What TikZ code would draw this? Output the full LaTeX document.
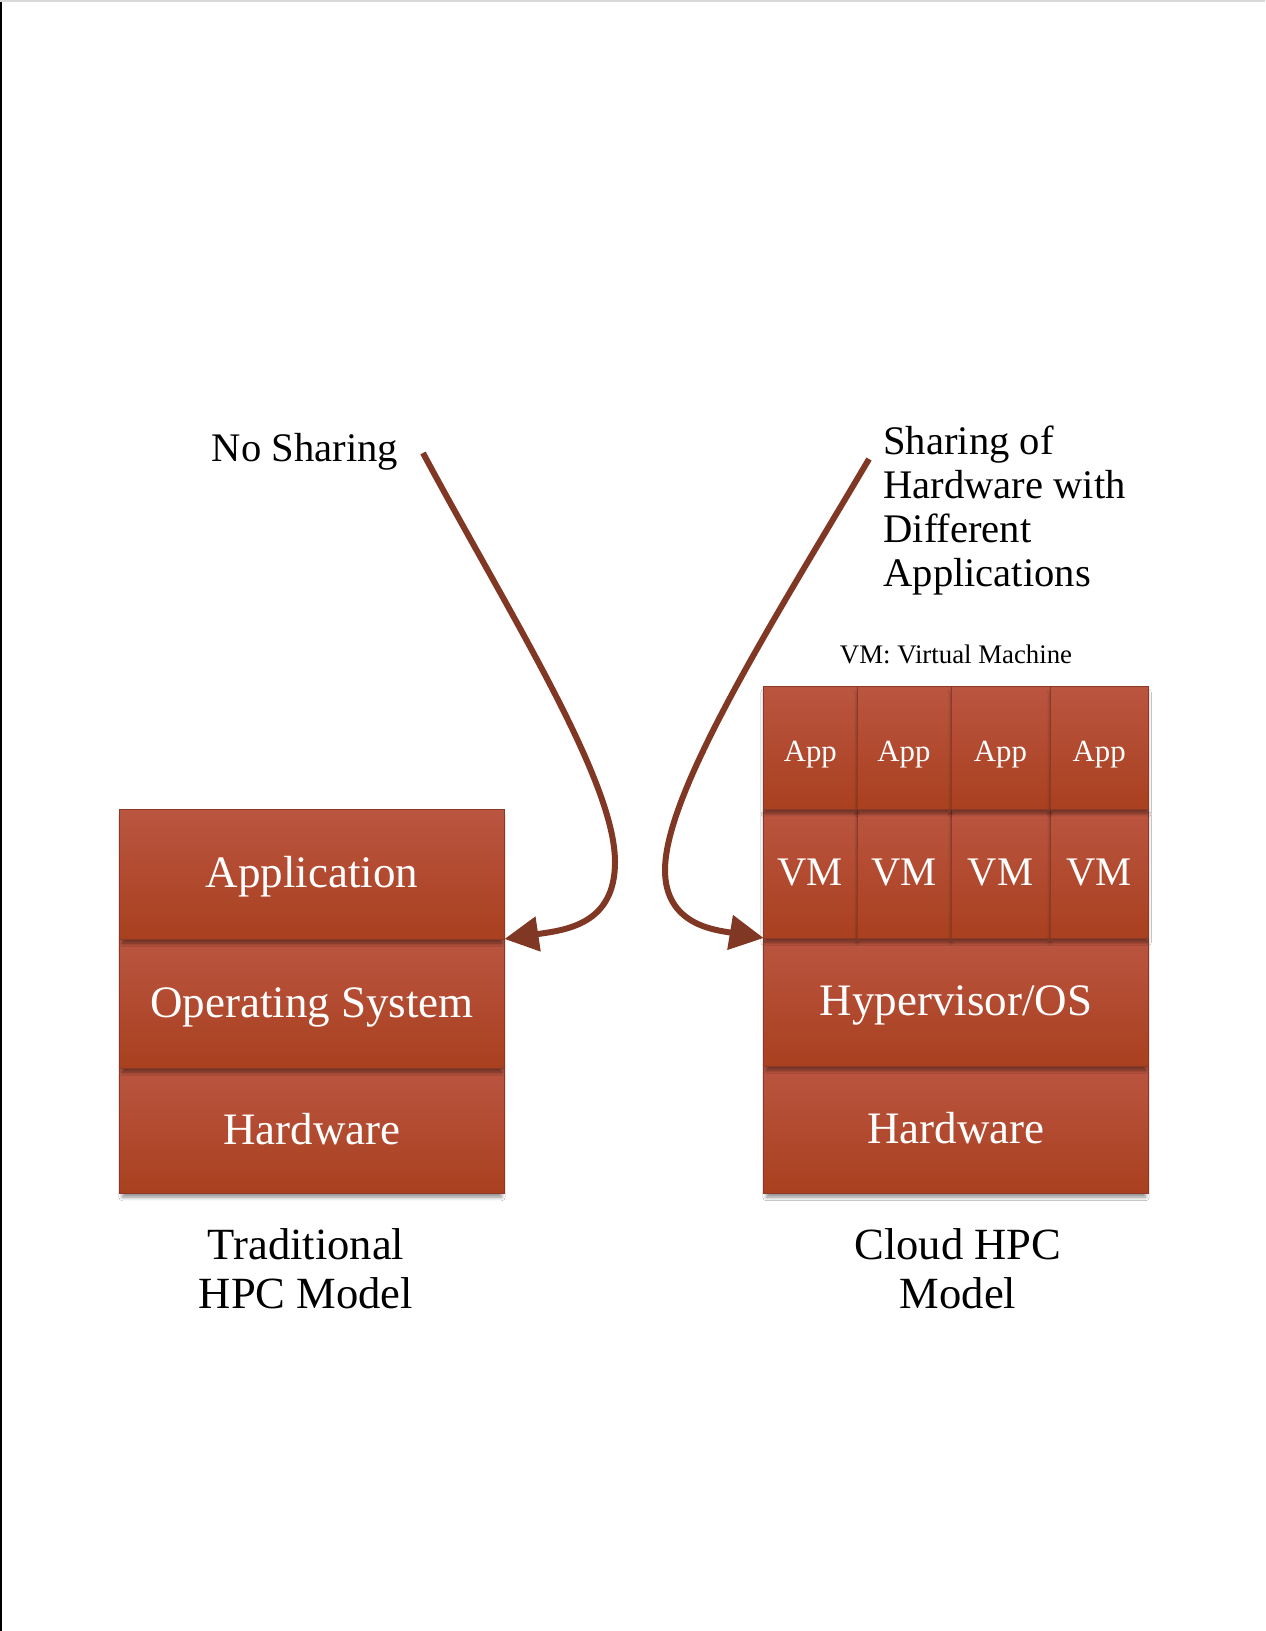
\documentclass[tikz,border=0pt]{standalone}
\usepackage{fontspec}
\setmainfont{Liberation Serif}
\usetikzlibrary{arrows.meta,shadows.blur}

\definecolor{bricktop}{RGB}{186,85,64}
\definecolor{brickbottom}{RGB}{169,64,31}
\definecolor{brickline}{RGB}{140,58,40}
\definecolor{arrowbrown}{RGB}{128,56,36}

\tikzset{
  layer/.style={draw=brickline, line width=0.5pt,
    top color=bricktop, bottom color=brickbottom,
    inner sep=0pt, outer sep=0pt, text=white, anchor=center,
    blur shadow={shadow xshift=0pt, shadow yshift=-2.6pt, shadow scale=0.985,
      shadow blur radius=1.8pt, shadow blur steps=6, shadow opacity=45}},
  wide/.style={minimum width=192.45pt},
  bigtext/.style={font=\fontsize{22.5}{26}\selectfont, text height=17pt, text depth=3.1pt},
  vmtext/.style={font=\fontsize{20.3}{24}\selectfont, text height=14.5pt, text depth=3pt,
    minimum height=64.5pt},
  apptext/.style={font=\fontsize{15.4}{18}\selectfont, text height=15pt, text depth=1.1pt,
    minimum height=61.2pt},
  caption/.style={font=\fontsize{22.3}{24.4}\selectfont, align=center, inner sep=0pt, anchor=north},
  note/.style={font=\fontsize{20.3}{22}\selectfont, inner sep=0pt},
  conn/.style={draw=arrowbrown, line width=3pt,
    -{Triangle[length=17pt,width=17pt,fill=arrowbrown]}},
}

\begin{document}
\begin{tikzpicture}[x=0.5pt,y=-0.5pt]
  \useasboundingbox (0,0) rectangle (1265,1631);
  \fill[white] (0,0) rectangle (1265,1631);

  % traditional stack, drawn bottom-up so each shadow falls on the layer below
  \node[layer, wide, bigtext, minimum height=62.5pt] (hwL) at (312.05,1130.5) {Hardware};
  \node[layer, wide, bigtext, minimum height=64.5pt] (osL) at (312.05,1003.5) {Operating System};
  \node[layer, wide, bigtext, minimum height=65pt] (appL) at (312.05,874) {Application};

  % cloud stack
  \node[layer, wide, bigtext, minimum height=63.5pt] (hwR) at (956.05,1129.5) {Hardware};
  \node[layer, wide, bigtext, minimum height=64pt] (hyp) at (956.05,1002) {Hypervisor/OS};
  \node[layer, vmtext, minimum width=46.7pt]  (vm1) at (810.3,873.5) {VM};
  \node[layer, vmtext, minimum width=47pt]    (vm2) at (904,873.5) {VM};
  \node[layer, vmtext, minimum width=49.5pt]  (vm3) at (1000.5,873.5) {VM};
  \node[layer, vmtext, minimum width=49.25pt] (vm4) at (1099.25,873.5) {VM};
  \node[layer, apptext, minimum width=46.7pt]  (app1) at (810.3,747.8) {App};
  \node[layer, apptext, minimum width=47pt]    (app2) at (904,747.8) {App};
  \node[layer, apptext, minimum width=49.5pt]  (app3) at (1000.5,747.8) {App};
  \node[layer, apptext, minimum width=49.25pt] (app4) at (1099.25,747.8) {App};

  % labels
  \node[note, anchor=base west] (nosh) at (211.5,461.5) {No Sharing};
  \node[note, anchor=north west, align=left] (shar) at (883,425.3)
    {Sharing of\\Hardware with\\Different\\Applications};
  \node[font=\fontsize{13.4}{15}\selectfont, inner sep=0pt, anchor=base] (vmkey) at (956,663)
    {VM: Virtual Machine};
  \node[caption] (capL) at (306,1228.5) {Traditional\\HPC Model};
  \node[caption] (capR) at (958,1228.5) {Cloud HPC\\Model};

  % connectors
  \coordinate (nsTail) at (423,453);
  \coordinate (shTail) at (869,459);
  \draw[conn] (nsTail) .. controls (510,615) and (615,780) .. (615,862)
    .. controls (615,925) and (565,930) .. (appL.south east);
  \draw[conn] (shTail) .. controls (780,610) and (665,790) .. (665,870)
    .. controls (665,925) and (715,930) .. (hyp.north west);

  % page edges
  \draw[black, line width=1pt] (1,0) -- (1,1631);
  \draw[black!15, line width=1pt] (0,1) -- (1265,1);
\end{tikzpicture}
\end{document}
